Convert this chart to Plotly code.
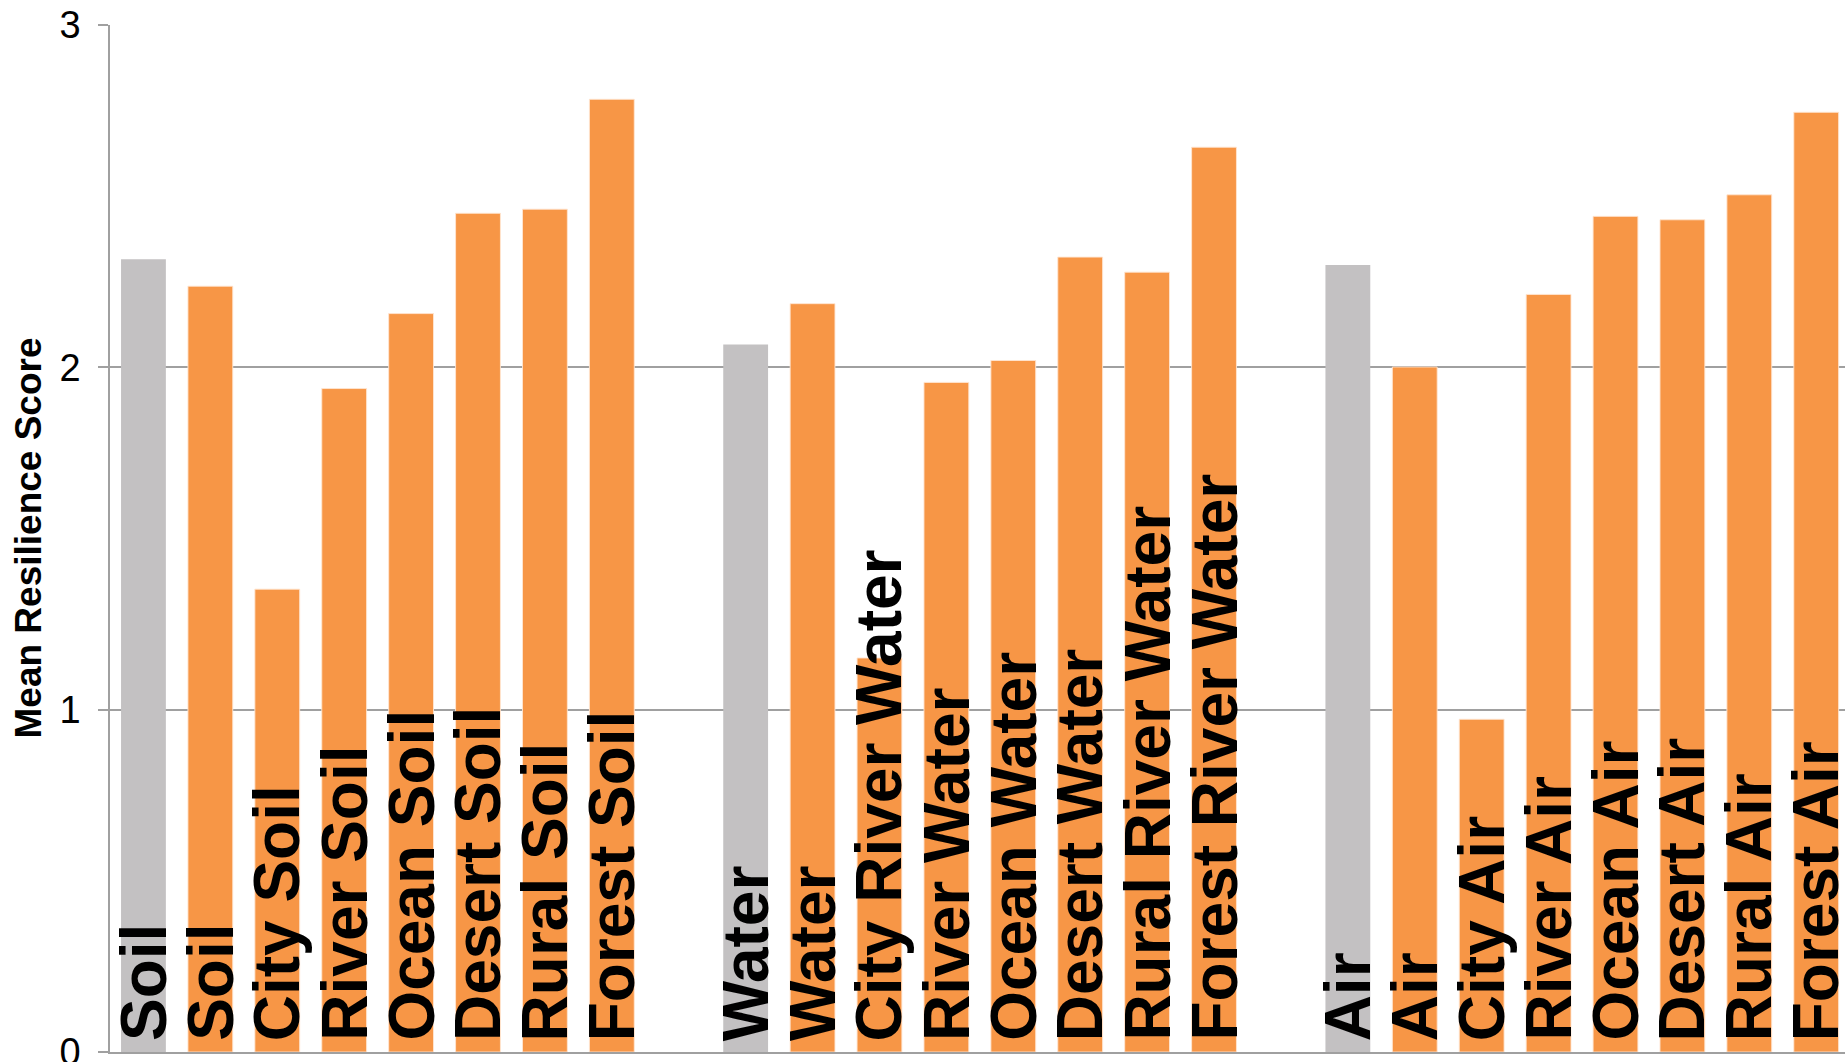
import plotly.graph_objects as go

# ---- data ----
soil_labels = ["Soil", "Soil", "City Soil", "River Soil", "Ocean Soil", "Desert Soil", "Rural Soil", "Forest Soil"]
soil_values = [2.316, 2.237, 1.352, 1.938, 2.157, 2.450, 2.462, 2.783]

water_labels = ["Water", "Water", "City River Water", "River Water", "Ocean Water", "Desert Water",
                "Rural River Water", "Forest River Water"]
water_values = [2.067, 2.186, 1.151, 1.956, 2.020, 2.322, 2.278, 2.643]

air_labels = ["Air", "Air", "City Air", "River Air", "Ocean Air", "Desert Air", "Rural Air", "Forest Air"]
air_values = [2.299, 2.001, 0.972, 2.213, 2.441, 2.431, 2.504, 2.745]

y_tick_values = [0, 1, 2, 3]
y_title = "Mean Resilience Score"

groups = [(soil_labels, soil_values), (water_labels, water_values), (air_labels, air_values)]

GRAY = "#C3C1C2"
ORANGE = "#F79646"
GRID = "#A0A0A0"
FONT = "Liberation Sans, Arial, Helvetica, sans-serif"

gray_x, gray_y, orange_x, orange_y = [], [], [], []
label_x, label_text = [], []
pos = 0
for labels, values in groups:
    for i, (lab, val) in enumerate(zip(labels, values)):
        if i == 0:
            gray_x.append(pos); gray_y.append(val)
        else:
            orange_x.append(pos); orange_y.append(val)
        label_x.append(pos); label_text.append(lab)
        pos += 1
    pos += 1  # empty slot between groups

fig = go.Figure()
fig.add_trace(go.Bar(x=gray_x, y=gray_y, width=0.67, marker=dict(color=GRAY, line=dict(width=0)),
                     showlegend=False, hoverinfo="y"))
fig.add_trace(go.Bar(x=orange_x, y=orange_y, width=0.67,
                     marker=dict(color=ORANGE, line=dict(color="rgba(255,230,210,0.9)", width=1)),
                     showlegend=False, hoverinfo="y"))

annotations = []
for x, t in zip(label_x, label_text):
    annotations.append(dict(x=x, y=0, xref="x", yref="y", text="<b>" + t + "</b>", textangle=-90,
                            xanchor="center", yanchor="bottom", yshift=9, showarrow=False,
                            font=dict(family=FONT, size=64, color="black")))
annotations.append(dict(x=0, y=0.5, xref="paper", yref="paper", text="<b>" + y_title + "</b>",
                        textangle=-90, xanchor="center", yanchor="middle", xshift=-82,
                        showarrow=False, font=dict(family=FONT, size=37, color="black")))

fig.update_layout(
    width=1845, height=1062,
    margin=dict(l=110, r=0, t=25, b=10, pad=0, autoexpand=False),
    paper_bgcolor="white", plot_bgcolor="white",
    barmode="overlay",
    annotations=annotations,
    font=dict(family=FONT),
    xaxis=dict(range=[-0.5, 25.43], showticklabels=False, showgrid=False, zeroline=False,
               showline=True, linecolor=GRID, linewidth=1.5, ticks="", automargin=False),
    yaxis=dict(range=[0, 3], tickvals=y_tick_values, showgrid=True, gridcolor=GRID, gridwidth=1.5,
               zeroline=False, showline=True, linecolor=GRID, linewidth=1.5,
               ticks="outside", ticklen=10, tickcolor=GRID, tickwidth=1.5,
               tickfont=dict(family=FONT, size=38, color="black"), ticklabelstandoff=10,
               ticklabeloverflow="allow", automargin=False),
)

fig.write_html("out.html")
